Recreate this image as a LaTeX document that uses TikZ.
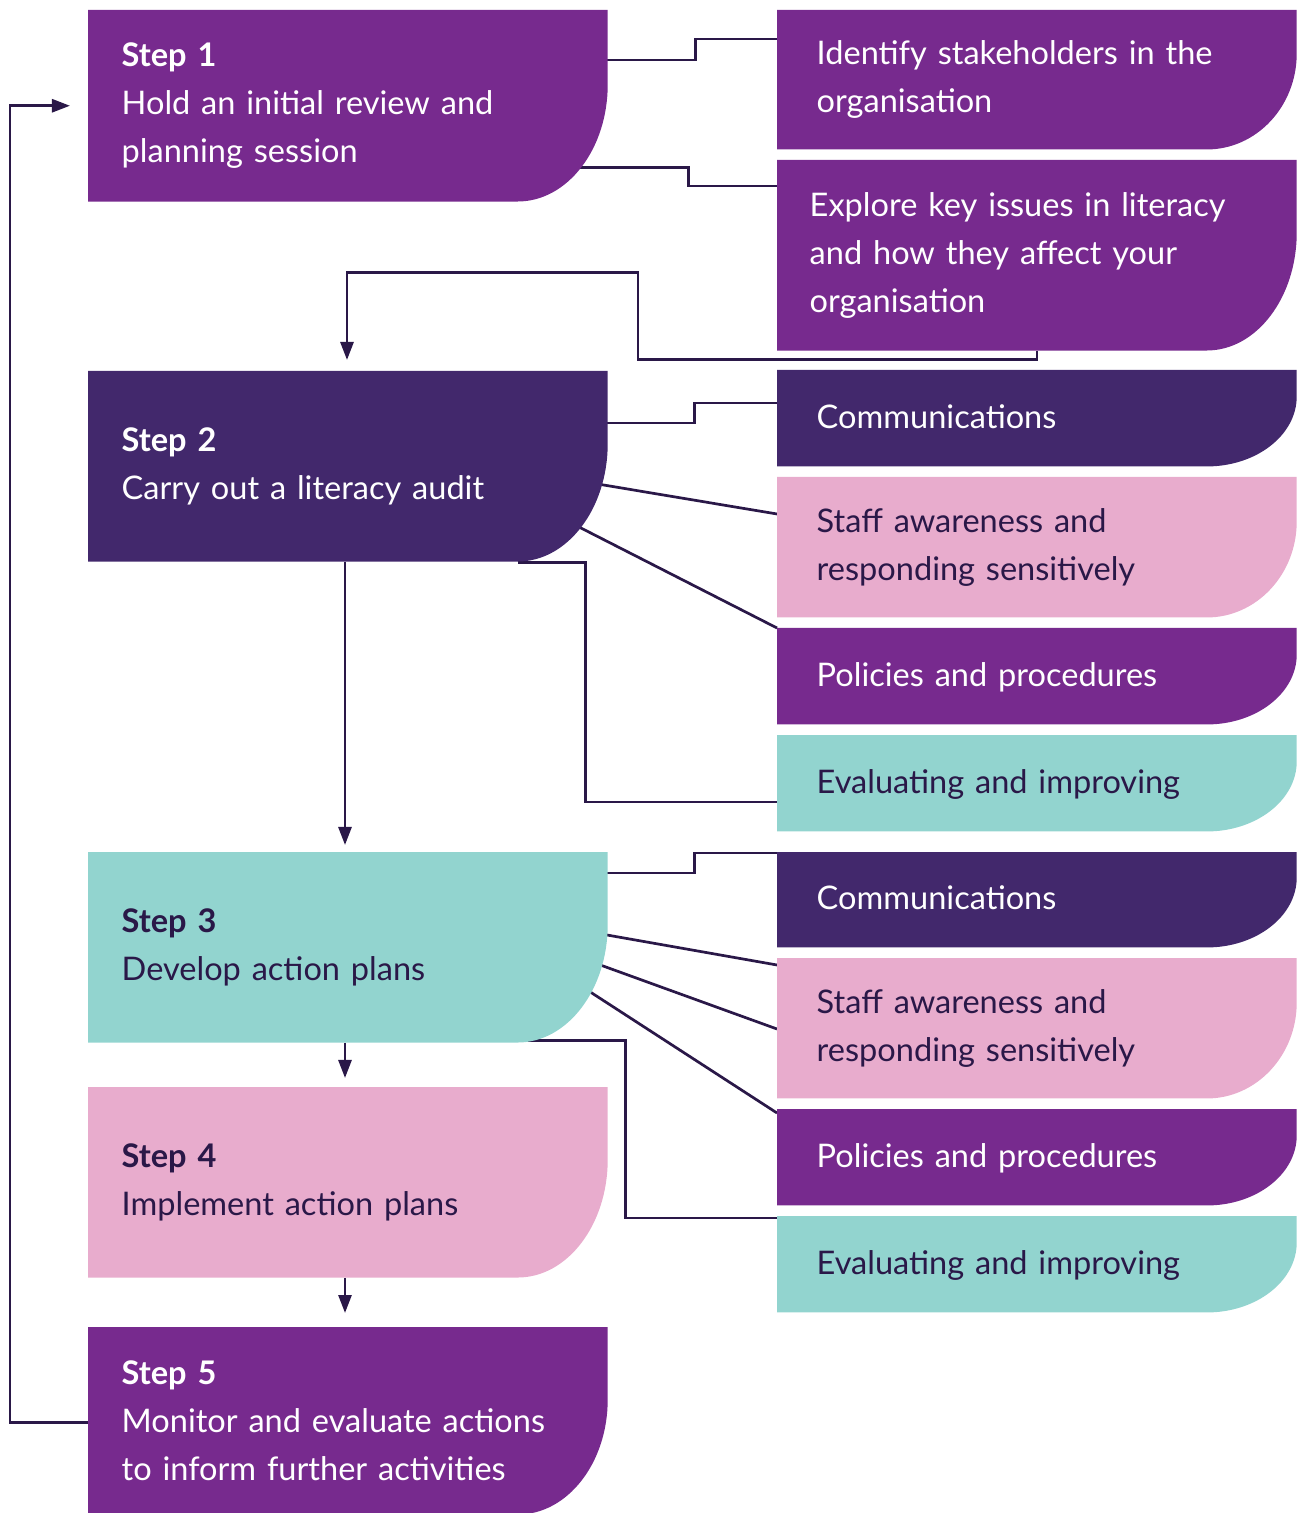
\documentclass[tikz,border=0pt]{standalone}
\usepackage{fontspec}
\setmainfont{Lato}
\usetikzlibrary{arrows.meta,calc,backgrounds}

\definecolor{plum}{HTML}{772A8E}
\definecolor{aubergine}{HTML}{42286C}
\definecolor{blush}{HTML}{E8ACCD}
\definecolor{aqua}{HTML}{92D4CF}
\definecolor{ink}{HTML}{2A1848}

\tikzset{
  box/.style={rectangle, inner ysep=0pt, anchor=north west, align=left,
    minimum width=5.18cm, font=\fontsize{9.25}{13.65}\selectfont},
  leftbox/.style={box, inner xsep=0.33cm, text width=4.52cm},
  rightbox/.style={box, inner xsep=0.39cm, text width=4.40cm},
  oneline/.style={rightbox, minimum height=0.95cm, text depth=0.04cm},
  link/.style={draw=ink, line width=0.77pt},
  flow/.style={link, -{Triangle[length=0.18cm, width=0.13cm]}}
}

\begin{document}
\begin{tikzpicture}[x=0.01cm, y=0.01cm]
  \useasboundingbox (0,0) rectangle (1296,-1513);

  % steps
  \node[leftbox, minimum height=1.90cm, text=white] (s1) at (88,-10)
    {\textbf{Step 1}\\Hold an initial review and\\planning session};
  \node[leftbox, minimum height=1.89cm, text=white] (s2) at (88,-371)
    {\textbf{Step 2}\\Carry out a literacy audit};
  \node[leftbox, minimum height=1.89cm, text=ink] (s3) at (88,-852)
    {\textbf{Step 3}\\Develop action plans};
  \node[leftbox, minimum height=1.89cm, text=ink] (s4) at (88,-1087)
    {\textbf{Step 4}\\Implement action plans};
  \node[leftbox, minimum height=1.86cm, text=white] (s5) at (88,-1327)
    {\textbf{Step 5}\\Monitor and evaluate actions\\to inform further activities};

  % topics
  \node[rightbox, minimum height=1.38cm, text=white] (r1) at (777,-10)
    {Identify stakeholders in the\\organisation};
  \node[rightbox, minimum height=1.89cm, text=white, inner xsep=0.32cm, text width=4.54cm] (r2) at (777,-160)
    {Explore key issues in literacy\\and how they affect your\\organisation};
  \node[oneline, text=white] (r3) at (777,-370) {Communications};
  \node[rightbox, minimum height=1.39cm, text=ink] (r4) at (777,-477)
    {Staff awareness and\\responding sensitively};
  \node[oneline, text=white] (r5) at (777,-628) {Policies and procedures};
  \node[oneline, text=ink] (r6) at (777,-735) {Evaluating and improving};
  \node[oneline, minimum height=0.94cm, text=white] (r7) at (777,-852) {Communications};
  \node[rightbox, minimum height=1.39cm, text=ink] (r8) at (777,-958)
    {Staff awareness and\\responding sensitively};
  \node[oneline, text=white] (r9) at (777,-1109) {Policies and procedures};
  \node[oneline, text=ink] (r10) at (777,-1216) {Evaluating and improving};

  \begin{scope}[on background layer]
    % step 1
    \draw[link] ($(s1.north east)+(-10,-50)$) -- ++(98,0) |- ($(r1.north west)+(0,-29)$);
    \draw[link] ($(s1.south east)+(-60,34)$) -- ++(141,0) |- ($(r2.north west)+(0,-26)$);
    \draw[flow] ($(r2.south west)+(260,0)$) -- ++(0,-9) -- ++(-399,0) -- ++(0,87)
      -| ($(s2.north west)+(259,11)$);
    % step 2
    \draw[link] ($(s2.north east)+(-10,-52)$) -- ++(97,0) |- ($(r3.north west)+(0,-33)$);
    \draw[link] ($(s2.north east)+(-46,-107)$) -- ($(r4.north west)+(0,-37)$);
    \draw[link] ($(s2.north east)+(-66,-137)$) -- (r5.north west);
    \draw[link] ($(s2.south east)+(-90,-1)$) -- ++(68,0) |- ($(r6.north west)+(0,-67)$);
    \draw[flow] ($(s2.south west)+(257,0)$) -- ($(s3.north west)+(257,7)$);
    % step 3
    \draw[link] ($(s3.north east)+(-10,-21)$) -- ++(97,0) |- ($(r7.north west)+(0,-1)$);
    \draw[link] ($(s3.north east)+(-46,-75)$) -- ($(r8.north west)+(0,-7)$);
    \draw[link] ($(s3.north east)+(-46,-99)$) -- ($(r8.north west)+(0,-71)$);
    \draw[link] ($(s3.north east)+(-56,-115)$) -- ($(r9.north west)+(0,-4)$);
    \draw[link] ($(s3.south east)+(-90,2)$) -- ++(108,0) |- ($(r10.north west)+(0,-2)$);
    \draw[flow] ($(s3.south west)+(257,0)$) -- ($(s4.north west)+(257,9)$);
    % steps 4 and 5
    \draw[flow] ($(s4.south west)+(257,0)$) -- ($(s5.north west)+(257,14)$);
    \draw[flow] ($(s5.west)+(0,-2)$) -- ++(-78,0) |- ($(s1.west)+(-18,0)$);

    % shapes with the rounded lower right corner
    \foreach \n/\c/\ry in {s1/plum/117, s2/aubergine/118, s3/aqua/118, s4/blush/118,
        s5/plum/115, r1/plum/96, r2/plum/118, r3/aubergine/70, r4/blush/96,
        r5/plum/70, r6/aqua/70, r7/aubergine/70, r8/blush/96, r9/plum/70, r10/aqua/70}
      \fill[\c] (\n.north west) -- (\n.north east) -- ($(\n.south east)+(0,\ry)$)
        arc[start angle=0, end angle=-90, x radius=90, y radius=\ry]
        -- (\n.south west) -- cycle;
  \end{scope}
\end{tikzpicture}
\end{document}
